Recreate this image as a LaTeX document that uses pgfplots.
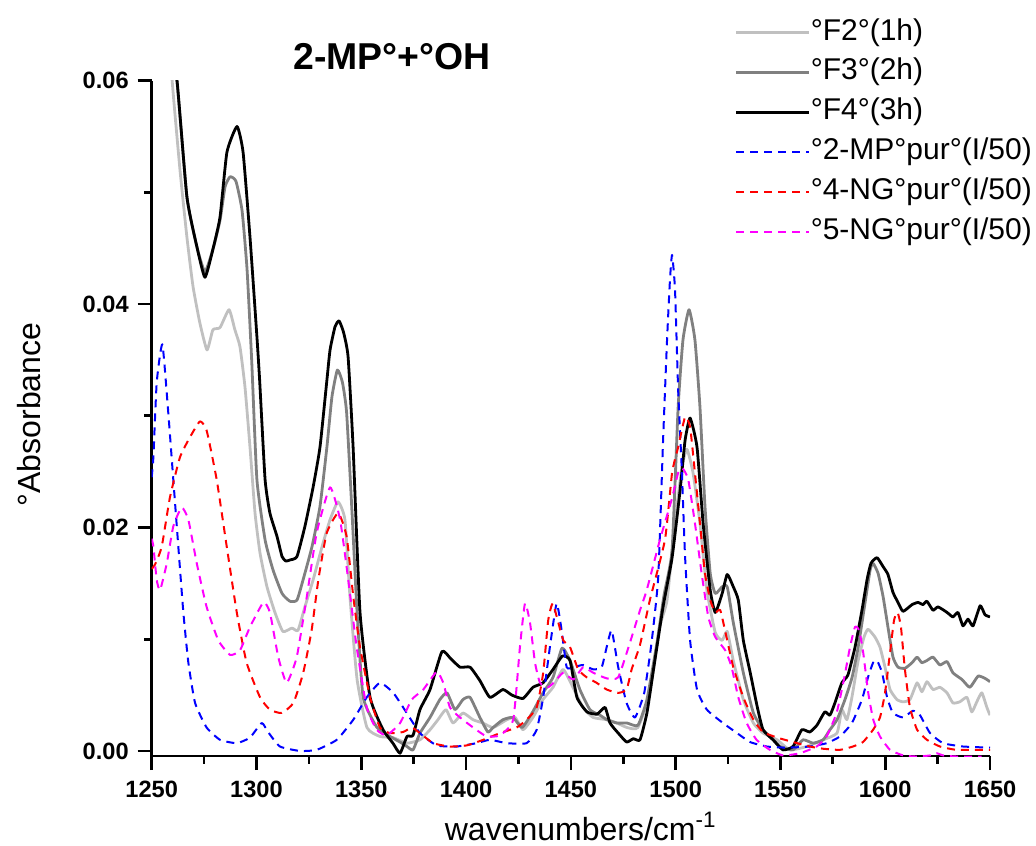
\documentclass[border=0pt]{standalone}
\usepackage{fontspec}
\setmainfont{Liberation Sans}
\usepackage{pgfplots}
\pgfplotsset{compat=1.18}
\definecolor{lgray}{RGB}{192,192,192}
\definecolor{dgray}{RGB}{128,128,128}
\definecolor{cblue}{RGB}{0,0,255}
\definecolor{cred}{RGB}{255,0,0}
\definecolor{cmag}{RGB}{255,0,255}
\begin{document}
\begin{tikzpicture}
\begin{axis}[
  name=ax,
  scale only axis,
  width=419.15pt, height=337.65pt,
  xmin=1250, xmax=1650, ymin=-0.00045, ymax=0.06,
  axis lines=left,
  axis line style={line width=1.35pt, -},
  tick style={line width=1.35pt, black},
  tick align=outside,
  major tick length=7pt,
  minor tick length=3.8pt,
  scaled y ticks=false,
  scaled x ticks=false,
  xtick={1250,1300,1350,1400,1450,1500,1550,1600,1650},
  minor xtick={1275,1325,1375,1425,1475,1525,1575,1625},
  ytick={0,0.02,0.04,0.06},
  minor ytick={0.01,0.03,0.05},
  xticklabels={1250,1300,1350,1400,1450,1500,1550,1600,1650},
  yticklabels={0.00,0.02,0.04,0.06},
  ticklabel style={font=\fontsize{11.8}{13}\selectfont\bfseries},
  xticklabel style={yshift=-2pt},
  yticklabel style={xshift=-1pt},
  legend style={at={(0.6958,1.0928)}, anchor=north west, draw=none, fill=none,
    inner sep=0pt, outer sep=0pt, font=\fontsize{15}{18}\selectfont,
    row sep=5.4pt,
    nodes={inner sep=0pt, text height=11pt, text depth=3.5pt}},
  legend cell align=left,
  legend image code/.code={\draw[#1] (0pt,0pt) -- (36.5pt,0pt);},
  line join=round,
  every axis plot/.append style={smooth, tension=0.3},
]
\addplot[lgray, line width=1.4pt] coordinates {
(1257,0.068)(1259.8,0.0599)(1263.5,0.0520)(1266.8,0.0460)(1269.7,0.0416)(1273,0.0383)(1276.4,0.0359)(1279.2,0.0377)(1282.6,0.0379)(1286.9,0.0395)(1289.7,0.0377)(1292.1,0.0362)(1294.5,0.0326)(1296.9,0.0272)(1299.3,0.0213)(1301.7,0.0177)(1305,0.0147)(1308.8,0.0124)(1312.6,0.0107)(1316.9,0.0110)(1319.8,0.0108)(1323.1,0.0129)(1327,0.0153)(1331.3,0.0183)(1335.1,0.0207)(1338.9,0.0223)(1342.2,0.0207)(1344.6,0.0138)(1348,0.0064)(1352.7,0.0021)(1358.9,0.0013)(1365.1,0.0012)(1371.8,0.0007)(1378,0.0010)(1382.8,0.0019)(1386.6,0.0028)(1390.4,0.0037)(1393.8,0.0025)(1398.5,0.0034)(1403.3,0.0028)(1408,0.0025)(1412.9,0.0021)(1419.5,0.0028)(1423.4,0.0030)(1427.2,0.0019)(1431.9,0.0030)(1436.7,0.0046)(1441.5,0.0057)(1446.3,0.0073)(1451,0.0057)(1455.8,0.0039)(1460.6,0.0030)(1467.2,0.0028)(1472,0.0025)(1476.8,0.0021)(1482,0.0021)(1487.7,0.0052)(1492.4,0.0111)(1495.9,0.0135)(1499.7,0.0204)(1503,0.0254)(1505.4,0.0270)(1508.3,0.0249)(1511.6,0.0204)(1514.9,0.0144)(1518.9,0.0106)(1522.2,0.0099)(1524.6,0.0107)(1527.5,0.0081)(1532.3,0.0046)(1537.1,0.0025)(1541.7,0.0016)(1548.4,0.0010)(1554.5,0.0001)(1562.6,0.0004)(1570.4,0.0010)(1577,0.0016)(1579.3,0.0037)(1581.7,0.0028)(1584.1,0.0048)(1587.1,0.0081)(1589.9,0.0102)(1591.8,0.0109)(1595.1,0.0102)(1597.5,0.0093)(1599.9,0.0075)(1602.3,0.0055)(1605.6,0.0046)(1608.5,0.0044)(1611.8,0.0046)(1615.2,0.0061)(1617.5,0.0053)(1619.9,0.0062)(1622.8,0.0055)(1626.1,0.0057)(1629.5,0.0052)(1632.3,0.0043)(1635.6,0.0044)(1639,0.0048)(1641.3,0.0035)(1643.7,0.0044)(1646.1,0.0052)(1648.5,0.0039)(1650,0.0032)
};
\addlegendentry{°F2°(1h)}
\addplot[dgray, line width=1.4pt] coordinates {
(1255,0.070)(1262,0.0600)(1266.8,0.0496)(1271.6,0.0451)(1275.4,0.0429)(1279.2,0.0449)(1282.6,0.0475)(1285,0.0505)(1287.4,0.0514)(1290.2,0.0510)(1293.1,0.0484)(1295.5,0.0431)(1297.7,0.0350)(1300.2,0.0243)(1304.1,0.0189)(1307.9,0.0162)(1312.2,0.0141)(1316,0.0134)(1319.3,0.0135)(1322.2,0.0153)(1326.5,0.0183)(1330.3,0.0219)(1333.6,0.0272)(1336,0.0317)(1338.6,0.0341)(1341,0.0330)(1343,0.0303)(1345.6,0.0213)(1348,0.0124)(1350.9,0.0048)(1357.5,0.0021)(1363.7,0.0013)(1368.5,0.0008)(1371.8,0.0004)(1374.7,0.0001)(1378,0.0016)(1382.8,0.0030)(1387.5,0.0046)(1390.9,0.0052)(1394.7,0.0037)(1398.5,0.0046)(1401.9,0.0048)(1406.6,0.0030)(1410.4,0.0017)(1412.9,0.0021)(1417.6,0.0028)(1422.4,0.0030)(1426.7,0.0021)(1431.5,0.0034)(1436.7,0.0052)(1441.5,0.0066)(1445.8,0.0092)(1449.6,0.0081)(1454.3,0.0055)(1459.1,0.0037)(1463.9,0.0032)(1467.2,0.0028)(1472,0.0025)(1476.8,0.0025)(1482,0.0023)(1486.3,0.0046)(1491.1,0.0097)(1494.5,0.0140)(1498.3,0.0180)(1501.2,0.0308)(1503.5,0.0368)(1506.4,0.0395)(1509.2,0.0368)(1511.6,0.0308)(1514,0.0219)(1516.5,0.0159)(1518.9,0.0141)(1522.2,0.0147)(1524.6,0.0147)(1527.5,0.0115)(1532.3,0.0070)(1537.1,0.0034)(1541.7,0.0019)(1546.5,0.0010)(1549.8,0.0004)(1556,0.0001)(1560.8,0.0010)(1565.6,0.0007)(1570.4,0.0010)(1573.6,0.0019)(1577,0.0028)(1580.8,0.0046)(1584.2,0.0066)(1587.1,0.0093)(1590.4,0.0133)(1592.8,0.0162)(1594.2,0.0168)(1596.6,0.0159)(1599,0.0138)(1601.3,0.0111)(1603.7,0.0084)(1606.1,0.0075)(1609.4,0.0074)(1612.8,0.0079)(1615.2,0.0084)(1617.5,0.0079)(1619.9,0.0081)(1622.8,0.0084)(1626.1,0.0077)(1629.5,0.0080)(1632.3,0.0070)(1636.6,0.0064)(1640.4,0.0057)(1644.3,0.0067)(1647.6,0.0065)(1650,0.0062)
};
\addlegendentry{°F3°(2h)}
\addplot[black, line width=1.4pt] coordinates {
(1256,0.070)(1262.1,0.0600)(1266.8,0.0496)(1271.6,0.0451)(1275.4,0.0424)(1279.2,0.0449)(1282.6,0.0478)(1285.9,0.0536)(1290.7,0.0559)(1293.6,0.0536)(1296.9,0.0460)(1300.2,0.0371)(1301.5,0.0332)(1304.1,0.0243)(1306.4,0.0213)(1309.8,0.0192)(1312.2,0.0174)(1314,0.0170)(1316,0.0171)(1319.3,0.0174)(1323.1,0.0201)(1327,0.0236)(1330.3,0.0272)(1333.6,0.0332)(1335.1,0.0359)(1337.5,0.0380)(1339.4,0.0385)(1341.5,0.0375)(1343.7,0.0353)(1346.1,0.0272)(1349.4,0.0124)(1354.2,0.0048)(1360.4,0.0019)(1365.1,0.0007)(1368.5,-0.0002)(1371.8,0.0013)(1374.7,0.0014)(1378,0.0037)(1382.8,0.0055)(1388.5,0.0089)(1392.5,0.0083)(1397.1,0.0075)(1401.9,0.0075)(1406.6,0.0063)(1411.4,0.0048)(1417.6,0.0055)(1421.9,0.0050)(1427.2,0.0047)(1431.9,0.0057)(1436.7,0.0061)(1441.5,0.0073)(1446,0.0085)(1449.6,0.0081)(1452.9,0.0048)(1457.7,0.0035)(1462.5,0.0033)(1466.3,0.0039)(1468.7,0.0025)(1472.6,0.0016)(1476.6,0.0008)(1479.8,0.0011)(1483,0.0010)(1486.3,0.0034)(1489.2,0.0070)(1494,0.0129)(1498.3,0.0173)(1502.1,0.0233)(1504.5,0.0278)(1506.9,0.0298)(1510.2,0.0272)(1513.1,0.0204)(1516.5,0.0144)(1518.9,0.0124)(1522.2,0.0141)(1524.6,0.0158)(1527.5,0.0147)(1529.9,0.0135)(1532.3,0.0099)(1535.6,0.0070)(1539,0.0039)(1541.7,0.0019)(1546.5,0.0010)(1551.2,0.0001)(1556,0.0004)(1560.2,0.0019)(1564,0.0017)(1567.4,0.0023)(1571.2,0.0035)(1573.6,0.0032)(1576,0.0043)(1579.3,0.0061)(1582.2,0.0068)(1585.6,0.0093)(1588.9,0.0126)(1591.3,0.0153)(1593.2,0.0168)(1596.1,0.0173)(1599,0.0165)(1601.3,0.0158)(1603.7,0.0142)(1606.1,0.0133)(1608.5,0.0125)(1612.8,0.0131)(1615.7,0.0133)(1618,0.0131)(1619.9,0.0134)(1622.8,0.0126)(1625.2,0.0129)(1629.5,0.0124)(1632.3,0.0120)(1634.7,0.0124)(1637.1,0.0112)(1639.5,0.0118)(1641.9,0.0112)(1645.3,0.0130)(1647.6,0.0122)(1650,0.0120)
};
\addlegendentry{°F4°(3h)}
\addplot[cblue, line width=1pt, dash pattern=on 4pt off 3pt] coordinates {
(1250,0.0245)(1250.8,0.0263)(1252.4,0.0330)(1255.1,0.0364)(1257.9,0.0303)(1260.3,0.0243)(1262.7,0.0183)(1265.1,0.0124)(1267.5,0.0079)(1270.7,0.0043)(1276.2,0.0021)(1282.6,0.0010)(1290.6,0.0007)(1296.9,0.0012)(1302.5,0.0025)(1305.5,0.0017)(1311.2,0.0004)(1320.8,0.0000)(1328.7,0.0001)(1338.3,0.0010)(1346.2,0.0028)(1352.6,0.0048)(1358.9,0.0061)(1365.3,0.0052)(1371.7,0.0034)(1378,0.0016)(1386,0.0005)(1395.5,0.0004)(1405,0.0007)(1411.4,0.0010)(1419.4,0.0007)(1428.9,0.0007)(1433.7,0.0019)(1436.8,0.0048)(1440,0.0093)(1443.2,0.0132)(1445.6,0.0108)(1448,0.0075)(1451.2,0.0075)(1455.9,0.0077)(1460.7,0.0073)(1464.7,0.0075)(1467.1,0.0093)(1469.5,0.0108)(1472.6,0.0075)(1476.6,0.0043)(1480.6,0.0030)(1485,0.0052)(1488.5,0.0097)(1491.7,0.0156)(1494,0.0278)(1495.9,0.0368)(1497.3,0.0422)(1498.3,0.0444)(1499.7,0.0413)(1501.2,0.0323)(1503,0.0249)(1504.5,0.0174)(1506.9,0.0099)(1510.2,0.0055)(1514.9,0.0037)(1522.6,0.0025)(1529.3,0.0016)(1535.5,0.0008)(1543.5,0.0004)(1553,0.0003)(1564,0.0004)(1572.1,0.0007)(1578.4,0.0013)(1584.1,0.0025)(1588.9,0.0046)(1591.8,0.0066)(1594.2,0.0079)(1596.1,0.0081)(1598.5,0.0070)(1600.9,0.0048)(1603.7,0.0034)(1608.5,0.0030)(1613.3,0.0036)(1616.6,0.0032)(1621.4,0.0016)(1627.6,0.0007)(1637.1,0.0004)(1650,0.0003)
};
\addlegendentry{°2-MP°pur°(I/50)}
\addplot[cred, line width=1pt, dash pattern=on 4pt off 3pt] coordinates {
(1250,0.0163)(1251.6,0.0167)(1254.8,0.0183)(1258.7,0.0227)(1263.5,0.0263)(1268.3,0.0281)(1273,0.0295)(1276.2,0.0287)(1281,0.0243)(1285.8,0.0183)(1290.6,0.0124)(1295.3,0.0079)(1301.7,0.0048)(1306.4,0.0037)(1312,0.0034)(1317.6,0.0043)(1322.3,0.0070)(1326.3,0.0108)(1329.5,0.0153)(1333.5,0.0195)(1339,0.0213)(1343,0.0192)(1346.2,0.0138)(1349.4,0.0093)(1354.2,0.0048)(1358.9,0.0021)(1363.7,0.0016)(1370,0.0017)(1374.1,0.0021)(1378,0.0016)(1384.3,0.0007)(1392.3,0.0004)(1400.3,0.0005)(1408.2,0.0010)(1416.2,0.0016)(1424.1,0.0021)(1428.9,0.0028)(1433.7,0.0039)(1436.8,0.0070)(1439.2,0.0117)(1441.3,0.0132)(1444,0.0115)(1446.4,0.0099)(1449.6,0.0093)(1453.5,0.0073)(1457.5,0.0066)(1462.3,0.0061)(1467.1,0.0055)(1472.6,0.0052)(1476.6,0.0055)(1479,0.0073)(1483,0.0095)(1487.7,0.0135)(1494.9,0.0189)(1498.3,0.0249)(1501.2,0.0272)(1504.5,0.0299)(1506.9,0.0290)(1509.2,0.0249)(1511.6,0.0204)(1514,0.0159)(1516.5,0.0135)(1518.9,0.0124)(1521.3,0.0126)(1524.6,0.0099)(1527.5,0.0075)(1532.3,0.0048)(1537.1,0.0028)(1541.7,0.0017)(1548.4,0.0012)(1556,0.0008)(1564,0.0004)(1570.4,0.0002)(1578.4,0.0001)(1584.6,0.0004)(1589.4,0.0008)(1594.2,0.0019)(1597.5,0.0030)(1599.9,0.0052)(1602.3,0.0088)(1604.2,0.0117)(1605.9,0.0124)(1607.5,0.0111)(1609.4,0.0073)(1611.8,0.0039)(1615.2,0.0019)(1619.9,0.0010)(1626.1,0.0004)(1634.2,0.0001)(1650,0.0001)
};
\addlegendentry{°4-NG°pur°(I/50)}
\addplot[cmag, line width=1pt, dash pattern=on 4pt off 3pt] coordinates {
(1250,0.0190)(1250.8,0.0183)(1252.4,0.0153)(1254,0.0144)(1257.2,0.0168)(1260.3,0.0201)(1264.3,0.0218)(1267.5,0.0207)(1271.5,0.0168)(1276.2,0.0129)(1281.8,0.0099)(1287.4,0.0086)(1292.1,0.0090)(1296.9,0.0111)(1303.3,0.0133)(1306.4,0.0124)(1310.4,0.0084)(1314.4,0.0061)(1319.2,0.0084)(1324,0.0138)(1328.7,0.0195)(1335.1,0.0236)(1339.9,0.0207)(1343.8,0.0153)(1347.8,0.0093)(1352.6,0.0039)(1357.4,0.0019)(1362.1,0.0014)(1368.5,0.0025)(1374.1,0.0046)(1379.6,0.0055)(1386,0.0071)(1389.1,0.0061)(1392.3,0.0039)(1397.1,0.0030)(1403.4,0.0021)(1409.8,0.0013)(1416.2,0.0014)(1422.5,0.0028)(1425.7,0.0093)(1428.1,0.0132)(1430.5,0.0115)(1432.9,0.0079)(1435.3,0.0061)(1439.2,0.0057)(1443.2,0.0064)(1446.4,0.0070)(1451.2,0.0064)(1455.9,0.0075)(1460.7,0.0070)(1467.1,0.0065)(1472.6,0.0066)(1478.2,0.0097)(1483,0.0126)(1486.2,0.0144)(1492.5,0.0189)(1498.1,0.0225)(1501.2,0.0249)(1503.3,0.0253)(1506,0.0243)(1509.2,0.0204)(1512.4,0.0159)(1515.6,0.0120)(1518.9,0.0102)(1523.7,0.0090)(1526.7,0.0075)(1529.9,0.0048)(1533.9,0.0025)(1538.6,0.0010)(1545,0.0001)(1551.3,-0.0004)(1559.3,-0.0002)(1567.3,0.0004)(1572,0.0013)(1576.8,0.0034)(1580.3,0.0064)(1583.2,0.0093)(1585.6,0.0111)(1587.6,0.0108)(1589.5,0.0088)(1591.9,0.0052)(1594.3,0.0028)(1597.5,0.0013)(1602.3,0.0001)(1608.6,-0.0004)(1615,-0.0005)(1621.4,-0.0004)(1624.5,-0.0002)(1627.7,-0.0004)(1634.2,-0.0005)(1646,-0.0005)
};
\addlegendentry{°5-NG°pur°(I/50)}
\end{axis}
\node[anchor=base west, font=\fontsize{18.7}{22}\selectfont\bfseries, inner sep=0pt]
  at ([shift={(70.65pt,343pt)}]ax.south west) {2-MP°+°OH};
\node[anchor=base, rotate=90, font=\fontsize{16}{19}\selectfont, inner sep=0pt]
  at ([shift={(-55.35pt,170.75pt)}]ax.south west) {°Absorbance};
\node[anchor=base, font=\fontsize{16}{19}\selectfont, inner sep=0pt]
  at ([shift={(214.5pt,-42pt)}]ax.south west) {wavenumbers/cm\textsuperscript{-1}};
\pgfresetboundingbox
\path[use as bounding box] ([shift={(-75.85pt,-44.5pt)}]ax.south west) rectangle ([shift={(442.15pt,378pt)}]ax.south west);
\end{tikzpicture}
\end{document}
